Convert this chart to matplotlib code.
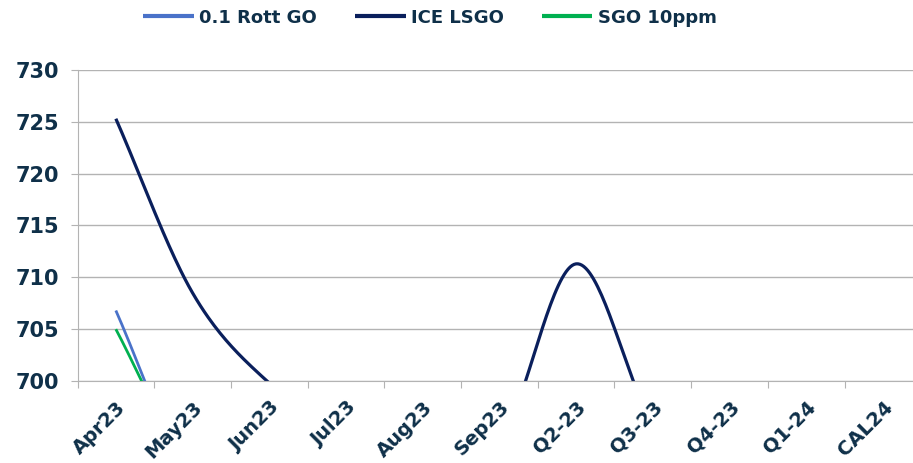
import numpy as np
import matplotlib.pyplot as plt

categories = ["Apr23", "May23", "Jun23", "Jul23", "Aug23", "Sep23",
              "Q2-23", "Q3-23", "Q4-23", "Q1-24", "CAL24"]
rott_go = [706.8, 690.0, 684.0, 682.0, 681.0, 681.0, 690.0, 683.0, 681.0, 680.0, 678.0]
ice_lsgo = [725.3, 708.5, 699.8, 695.0, 692.5, 694.0, 711.3, 696.0, 690.0, 688.0, 687.0]
sgo_10ppm = [705.0, 691.0, 685.0, 683.0, 682.0, 682.0, 690.0, 684.0, 682.0, 681.0, 679.0]

text_color = "#0f3049"
grid_color = "#b3b3b3"


def smooth(y, n=40):
    # Catmull-Rom spline through the points, like Excel's smoothed line
    y = np.asarray(y, dtype=float)
    x = np.arange(len(y)) + 0.5
    xs, ys = [], []
    for i in range(len(y) - 1):
        p0 = y[i - 1] if i > 0 else y[i]
        p1, p2 = y[i], y[i + 1]
        p3 = y[i + 2] if i + 2 < len(y) else y[i + 1]
        m1 = (p2 - p0) / 2 if i > 0 else (p2 - p1)
        m2 = (p3 - p1) / 2 if i + 2 < len(y) else (p2 - p1)
        t = np.linspace(0, 1, n)
        h00 = 2 * t**3 - 3 * t**2 + 1
        h10 = t**3 - 2 * t**2 + t
        h01 = -2 * t**3 + 3 * t**2
        h11 = t**3 - t**2
        xs.append(x[i] + t)
        ys.append(h00 * p1 + h10 * m1 + h01 * p2 + h11 * m2)
    return np.concatenate(xs), np.concatenate(ys)


fig = plt.figure(figsize=(9.13, 4.63), dpi=100)
ax = fig.add_axes([77.5 / 913, 1 - 381 / 463, 843.7 / 913, 311 / 463])

series = [("0.1 Rott GO", rott_go, "#4a72c9", 2.0),
          ("ICE LSGO", ice_lsgo, "#0a1f5c", 2.3),
          ("SGO 10ppm", sgo_10ppm, "#00b050", 2.0)]
for name, vals, color, lw in series:
    xs, ys = smooth(vals)
    ax.plot(xs, ys, color=color, lw=lw, label=name, solid_capstyle="butt")

ax.set_xlim(0, len(categories))
ax.set_ylim(700, 730)
ax.set_yticks(np.arange(700, 731, 5))
ax.yaxis.grid(True, color=grid_color, lw=1)
ax.set_axisbelow(True)

ax.set_xticks(np.arange(len(categories) + 1))
ax.set_xticklabels([])
ax.set_xticks(np.arange(len(categories)) + 0.5, minor=True)
ax.set_xticklabels(categories, minor=True, rotation=45, ha="right",
                   rotation_mode="anchor", fontsize=14, fontweight="bold",
                   color=text_color)
ax.tick_params(axis="x", which="minor", length=0, pad=12)
ax.tick_params(axis="x", which="major", length=5, color=grid_color, direction="out")
ax.tick_params(axis="y", length=5, color=grid_color, direction="out",
               labelsize=15, labelcolor=text_color, pad=8)
for lab in ax.get_yticklabels():
    lab.set_fontweight("bold")

for side in ["top", "right"]:
    ax.spines[side].set_visible(False)
for side in ["left", "bottom"]:
    ax.spines[side].set_color(grid_color)

leg = fig.legend(loc="center", bbox_to_anchor=(0.471, 0.962), ncol=3, frameon=False,
                 handlelength=2.8, handletextpad=0.3, columnspacing=2.1,
                 prop={"weight": "bold", "size": 13})
for t in leg.get_texts():
    t.set_color(text_color)
for h in leg.get_lines():
    h.set_linewidth(3)

fig.savefig("out.png", dpi=100)
